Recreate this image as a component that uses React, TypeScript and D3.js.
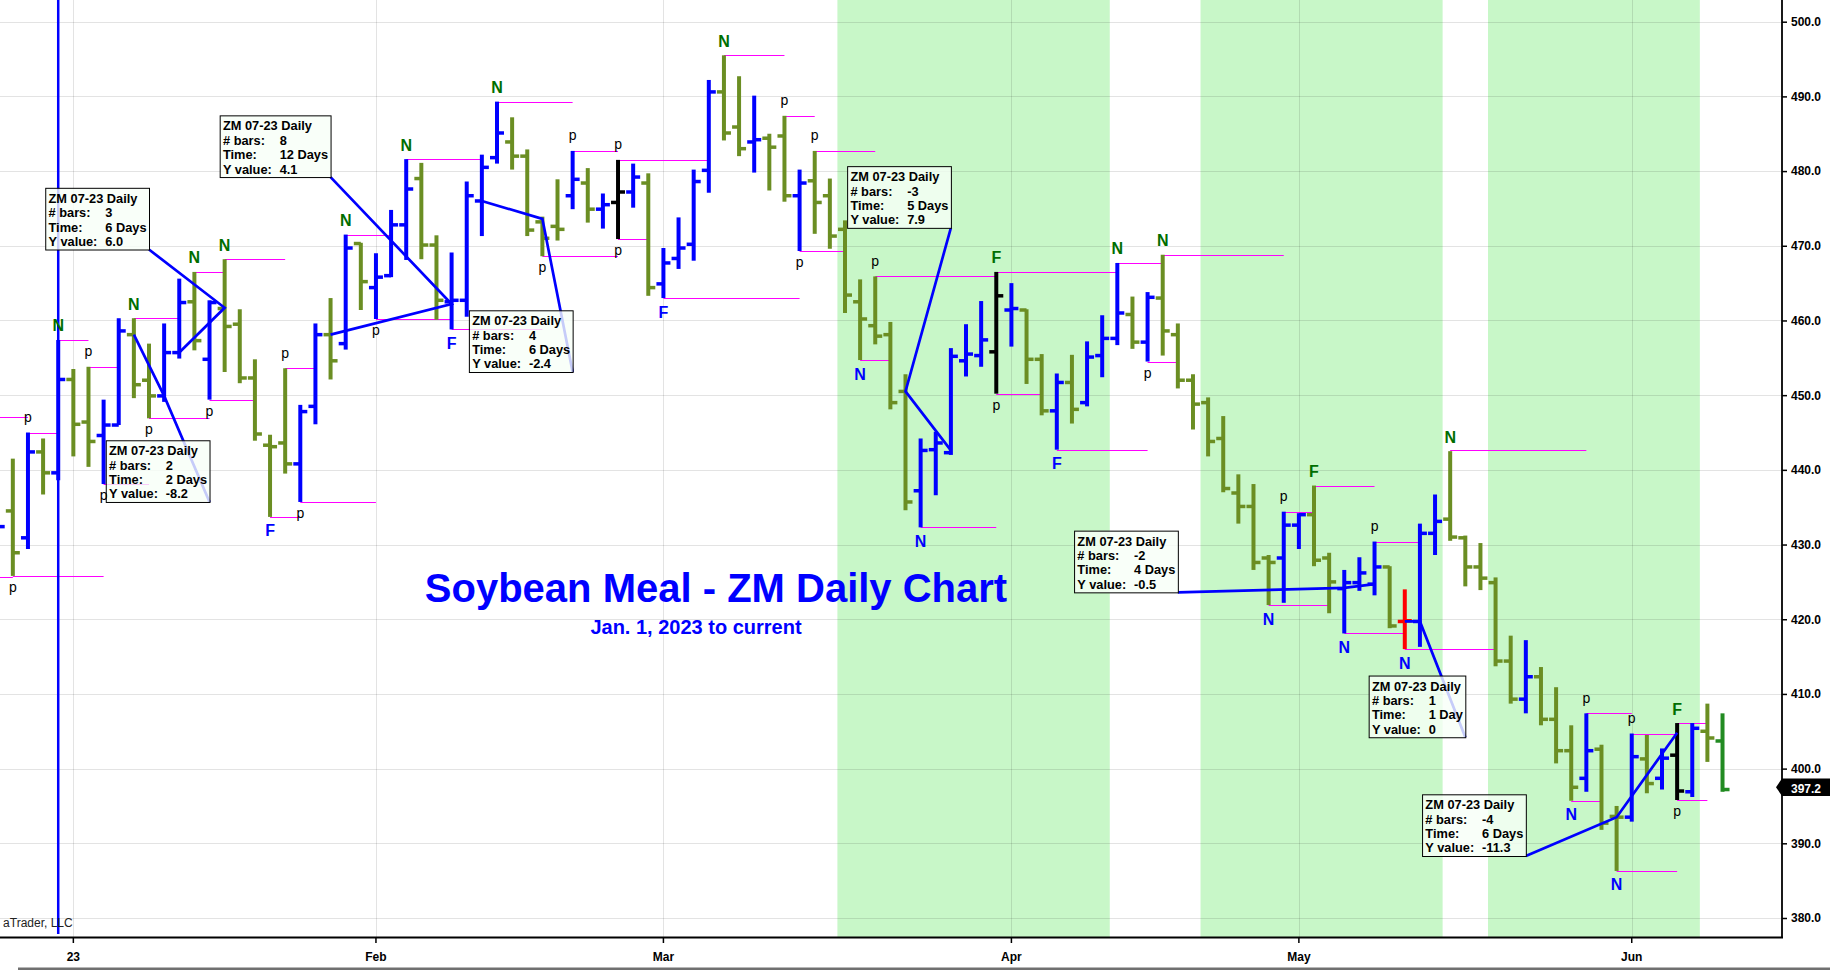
import React, { useRef, useEffect } from 'react';
import * as d3 from 'd3';

// trading days shown on the chart
const dates = [
  '2022-12-23', '2022-12-27', '2022-12-28', '2022-12-29', '2022-12-30',
  '2023-01-03', '2023-01-04', '2023-01-05', '2023-01-06', '2023-01-09', '2023-01-10', '2023-01-11', '2023-01-12',
  '2023-01-13', '2023-01-17', '2023-01-18', '2023-01-19', '2023-01-20', '2023-01-23', '2023-01-24', '2023-01-25',
  '2023-01-26', '2023-01-27', '2023-01-30', '2023-01-31',
  '2023-02-01', '2023-02-02', '2023-02-03', '2023-02-06', '2023-02-07', '2023-02-08', '2023-02-09', '2023-02-10',
  '2023-02-13', '2023-02-14', '2023-02-15', '2023-02-16', '2023-02-17', '2023-02-21', '2023-02-22', '2023-02-23',
  '2023-02-24', '2023-02-27', '2023-02-28',
  '2023-03-01', '2023-03-02', '2023-03-03', '2023-03-06', '2023-03-07', '2023-03-08', '2023-03-09', '2023-03-10',
  '2023-03-13', '2023-03-14', '2023-03-15', '2023-03-16', '2023-03-17', '2023-03-20', '2023-03-21', '2023-03-22',
  '2023-03-23', '2023-03-24', '2023-03-27', '2023-03-28', '2023-03-29', '2023-03-30', '2023-03-31',
  '2023-04-03', '2023-04-04', '2023-04-05', '2023-04-06', '2023-04-10', '2023-04-11', '2023-04-12', '2023-04-13',
  '2023-04-14', '2023-04-17', '2023-04-18', '2023-04-19', '2023-04-20', '2023-04-21', '2023-04-24', '2023-04-25',
  '2023-04-26', '2023-04-27', '2023-04-28',
  '2023-05-01', '2023-05-02', '2023-05-03', '2023-05-04', '2023-05-05', '2023-05-08', '2023-05-09', '2023-05-10',
  '2023-05-11', '2023-05-12', '2023-05-15', '2023-05-16', '2023-05-17', '2023-05-18', '2023-05-19', '2023-05-22',
  '2023-05-23', '2023-05-24', '2023-05-25', '2023-05-26', '2023-05-30', '2023-05-31',
  '2023-06-01', '2023-06-02', '2023-06-05', '2023-06-06', '2023-06-07', '2023-06-08', '2023-06-09',
];

const opens = [
  435.5, 434.5, 430.9, 442.4, 439.6,
  452.1, 446.4, 444.6, 446.0, 458.1, 452.0, 449.9, 455.7, 462.5, 454.8, 461.6, 459.5, 452.3, 443.3, 443.6, 440.8, 448.5, 458.1, 456.9, 470.3,
  464.4, 466.0, 472.8, 479.0, 470.1, 462.5, 462.7, 476.0, 481.8, 483.9, 482.0, 473.2, 472.6, 476.7, 478.4, 474.9, 475.8, 477.2, 478.4,
  464.9, 468.3, 470.2, 480.1, 490.6, 485.9, 483.9, 484.4, 484.7, 476.7, 478.7, 476.7, 472.2, 462.5, 459.3, 458.1, 450.5, 437.2, 442.7, 442.3, 454.6, 455.3, 455.8,
  461.4, 461.4, 454.8, 447.9, 451.7, 449.0, 455.3, 457.6, 460.8, 457.1, 463.0, 458.1, 452.0, 449.0, 444.2, 436.9, 435.1, 428.2, 428.2,
  432.6, 434.0, 428.2, 424.1, 424.9, 424.7, 427.0, 419.7, 419.7, 431.5, 433.4, 430.9, 427.0, 424.9, 414.4, 409.3, 412.3, 406.6, 402.4, 398.7, 402.6, 393.6,
  393.5, 401.3, 398.7, 401.8, 396.9, 405.0, 403.7,
];
const highs = [
  437.5, 441.5, 445.0, 444.2, 457.4,
  453.5, 453.8, 449.4, 460.3, 460.3, 456.9, 459.6, 465.6, 466.5, 462.7, 468.2, 461.5, 454.8, 444.7, 453.6, 448.7, 459.6, 463.0, 471.5, 470.4,
  469.0, 474.8, 481.6, 481.1, 471.4, 469.1, 478.6, 482.2, 489.3, 487.2, 482.9, 473.9, 478.9, 482.7, 480.4, 477.0, 481.5, 481.0, 479.7,
  469.7, 473.8, 480.2, 492.2, 495.5, 492.7, 490.1, 485.0, 487.4, 480.2, 482.7, 479.0, 473.4, 465.5, 465.9, 459.8, 452.8, 444.2, 445.1, 456.3, 459.5, 462.6, 466.5,
  465.0, 461.5, 455.5, 452.9, 455.4, 457.2, 460.7, 467.7, 463.2, 463.8, 468.8, 459.6, 452.8, 449.7, 447.2, 439.4, 438.1, 428.6, 434.4,
  434.2, 437.9, 428.9, 426.6, 428.3, 430.4, 427.1, 424.0, 432.8, 436.7, 442.5, 431.2, 430.2, 425.6, 417.8, 417.2, 413.6, 410.9, 405.8, 407.4, 403.2, 395.0,
  404.7, 404.5, 402.7, 406.1, 406.1, 408.7, 407.4,
];
const lows = [
  430.5, 425.8, 429.4, 436.7, 438.6,
  441.8, 440.4, 438.1, 446.0, 449.6, 446.9, 449.1, 454.9, 456.0, 449.4, 453.1, 451.6, 443.9, 433.7, 439.5, 435.7, 446.1, 452.1, 456.1, 461.4,
  460.2, 465.8, 468.1, 468.2, 460.1, 458.8, 460.5, 471.3, 481.0, 480.2, 471.3, 468.6, 470.7, 474.9, 473.1, 472.3, 470.9, 475.1, 463.3,
  463.0, 466.9, 468.0, 477.1, 484.1, 482.0, 479.8, 477.4, 475.9, 469.3, 471.6, 469.6, 461.0, 454.7, 456.8, 448.1, 434.6, 432.3, 436.6, 442.0, 452.5, 453.8, 450.2,
  456.5, 451.5, 447.3, 442.7, 446.2, 448.5, 452.4, 456.7, 456.2, 454.5, 455.3, 450.9, 445.4, 441.8, 437.0, 432.8, 426.6, 421.9, 422.2,
  429.4, 427.1, 420.8, 418.1, 423.8, 423.2, 418.8, 416.0, 416.3, 428.6, 430.5, 424.4, 423.9, 413.7, 408.7, 407.4, 405.8, 400.7, 395.7, 396.9, 391.8, 386.3,
  392.9, 396.7, 397.2, 395.8, 396.2, 400.9, 396.9,
];
const closes = [
  432.4, 428.9, 442.4, 439.6, 452.1,
  446.1, 443.8, 446.0, 458.6, 451.4, 449.9, 455.7, 462.4, 457.3, 462.4, 459.2, 452.3, 444.8, 443.1, 440.8, 447.8, 458.1, 454.6, 469.7, 465.2,
  465.8, 472.8, 477.6, 470.1, 462.7, 462.7, 476.7, 480.5, 485.1, 482.0, 472.1, 471.0, 472.2, 478.9, 474.9, 475.5, 477.2, 479.2, 464.4,
  467.7, 469.7, 478.6, 490.6, 485.1, 483.0, 484.2, 483.2, 476.7, 478.4, 475.8, 471.3, 463.4, 460.2, 457.9, 449.0, 435.7, 442.6, 443.6, 455.2, 455.5, 457.4, 463.3,
  461.6, 454.8, 447.9, 451.7, 448.1, 455.1, 457.6, 461.0, 457.1, 463.1, 458.6, 452.0, 448.8, 443.8, 437.5, 435.1, 427.6, 427.6, 432.6,
  434.0, 427.9, 425.0, 424.9, 426.2, 427.0, 419.1, 419.8, 431.5, 433.1, 431.0, 427.0, 425.5, 414.4, 409.3, 412.3, 406.6, 402.4, 397.5, 402.4, 392.7, 393.5,
  401.6, 398.0, 401.4, 397.0, 405.4, 404.1, 397.2,
];
// b blue, g olive, k black, r red, d last bar
const barKinds = (
  'bgbgb' +
  'ggbbggbbgbgggggbbgbg' +
  'bbbggbbbbggggbgbkbg' +
  'bbbbggbggbgggggggbbbbbk' +
  'bggbgbbbgbggggggggb' +
  'bggbbbgrbbgggggbgggbgg' +
  'bgbkbgd'
).split('');

// pivot marks: [date, side, text]
const pivotLabels: [string, string, string][] = [
  ['2022-12-27', 'L', 'p'], ['2022-12-28', 'H', 'p'], ['2022-12-30', 'H', 'N'], ['2023-01-04', 'H', 'p'],
  ['2023-01-05', 'L', 'p'], ['2023-01-09', 'H', 'N'], ['2023-01-10', 'L', 'p'], ['2023-01-13', 'H', 'N'],
  ['2023-01-17', 'L', 'p'], ['2023-01-18', 'H', 'N'], ['2023-01-23', 'L', 'F'], ['2023-01-24', 'H', 'p'],
  ['2023-01-25', 'L', 'p'], ['2023-01-30', 'H', 'N'], ['2023-02-01', 'L', 'p'], ['2023-02-03', 'H', 'N'],
  ['2023-02-08', 'L', 'F'], ['2023-02-13', 'H', 'N'], ['2023-02-16', 'L', 'p'], ['2023-02-21', 'H', 'p'],
  ['2023-02-24', 'H', 'p'], ['2023-02-24', 'L', 'p'], ['2023-03-01', 'L', 'F'], ['2023-03-07', 'H', 'N'],
  ['2023-03-13', 'H', 'p'], ['2023-03-14', 'L', 'p'], ['2023-03-15', 'H', 'p'], ['2023-03-20', 'L', 'N'],
  ['2023-03-21', 'H', 'p'], ['2023-03-24', 'L', 'N'], ['2023-03-31', 'H', 'F'], ['2023-03-31', 'L', 'p'],
  ['2023-04-06', 'L', 'F'], ['2023-04-13', 'H', 'N'], ['2023-04-17', 'L', 'p'], ['2023-04-18', 'H', 'N'],
  ['2023-04-27', 'L', 'N'], ['2023-04-28', 'H', 'p'], ['2023-05-02', 'H', 'F'], ['2023-05-04', 'L', 'N'],
  ['2023-05-08', 'H', 'p'], ['2023-05-10', 'L', 'N'], ['2023-05-15', 'H', 'N'], ['2023-05-25', 'L', 'N'],
  ['2023-05-26', 'H', 'p'], ['2023-05-31', 'L', 'N'], ['2023-06-01', 'H', 'p'], ['2023-06-06', 'H', 'F'],
  ['2023-06-06', 'L', 'p'],
];

// magenta pivot levels: [from, to, price]
const levelLines: [string, string, number][] = [
  ['2022-12-23', '2022-12-28', 447.1], ['2022-12-23', '2022-12-27', 425.6], ['2022-12-28', '2022-12-30', 445.0],
  ['2022-12-27', '2023-01-05', 425.8], ['2022-12-30', '2023-01-04', 457.4], ['2023-01-04', '2023-01-06', 453.8],
  ['2023-01-05', '2023-01-10', 438.1], ['2023-01-09', '2023-01-12', 460.3], ['2023-01-10', '2023-01-17', 446.9],
  ['2023-01-13', '2023-01-18', 466.5], ['2023-01-17', '2023-01-20', 449.4], ['2023-01-18', '2023-01-24', 468.2],
  ['2023-01-23', '2023-01-25', 433.7], ['2023-01-24', '2023-01-26', 453.6], ['2023-01-25', '2023-02-01', 435.7],
  ['2023-01-30', '2023-02-02', 471.5], ['2023-02-01', '2023-02-08', 460.2], ['2023-02-03', '2023-02-10', 481.6],
  ['2023-02-08', '2023-02-16', 458.8], ['2023-02-13', '2023-02-21', 489.3], ['2023-02-16', '2023-02-24', 468.6],
  ['2023-02-21', '2023-02-24', 482.7], ['2023-02-24', '2023-03-06', 481.5], ['2023-02-24', '2023-02-28', 470.9],
  ['2023-03-01', '2023-03-14', 463.0], ['2023-03-07', '2023-03-13', 495.5], ['2023-03-13', '2023-03-15', 487.4],
  ['2023-03-14', '2023-03-17', 469.3], ['2023-03-15', '2023-03-21', 482.7], ['2023-03-21', '2023-03-31', 465.9],
  ['2023-03-20', '2023-03-22', 454.7], ['2023-03-24', '2023-03-31', 432.3], ['2023-03-31', '2023-04-13', 466.5],
  ['2023-03-31', '2023-04-05', 450.2], ['2023-04-06', '2023-04-17', 442.7], ['2023-04-13', '2023-04-18', 467.7],
  ['2023-04-17', '2023-04-19', 454.5], ['2023-04-18', '2023-04-28', 468.8], ['2023-04-27', '2023-05-03', 421.9],
  ['2023-04-28', '2023-05-02', 434.4], ['2023-05-02', '2023-05-08', 437.9], ['2023-05-04', '2023-05-10', 418.1],
  ['2023-05-08', '2023-05-11', 430.4], ['2023-05-10', '2023-05-18', 416.0], ['2023-05-15', '2023-05-26', 442.6],
  ['2023-05-25', '2023-05-30', 395.7], ['2023-05-26', '2023-06-01', 407.4], ['2023-05-31', '2023-06-06', 386.3],
  ['2023-06-01', '2023-06-06', 404.7], ['2023-06-06', '2023-06-08', 406.1], ['2023-06-06', '2023-06-08', 395.8],
];

// measurement lines: [from, price, to, price]
const measures: [string, number, string, number][] = [
  ['2023-01-12', 455.7, '2023-01-18', 461.7],
  ['2023-01-09', 458.1, '2023-01-11', 449.9],
  ['2023-01-27', 458.1, '2023-02-08', 462.2],
  ['2023-02-10', 476.0, '2023-02-16', 473.6],
  ['2023-03-28', 442.6, '2023-03-23', 450.5],
  ['2023-05-08', 424.7, '2023-05-04', 424.2],
  ['2023-05-10', 419.7, '2023-05-11', 419.7],
  ['2023-06-06', 404.8, '2023-05-31', 393.5],
];
// where each info box hangs (its lower right corner), in date / price
const boxAnchors: [string, number][] = [
  ['2023-01-10', 469.5], ['2023-01-17', 435.7], ['2023-01-27', 479.2], ['2023-02-21', 453.1],
  ['2023-03-28', 472.4], ['2023-04-19', 423.6], ['2023-05-16', 404.2], ['2023-05-22', 388.3],
];

const shaded: [string, string][] = [
  ['2023-03-17', '2023-04-12'],
  ['2023-04-21', '2023-05-12'],
  ['2023-05-18', '2023-06-07'],
];

const monthTicks = ['2023-01-03', '2023-02-01', '2023-03-01', '2023-04-03', '2023-05-01', '2023-06-01'];
const monthLabels = ['23', 'Feb', 'Mar', 'Apr', 'May', 'Jun'];
const priceTicks = [380, 390, 400, 410, 420, 430, 440, 450, 460, 470, 480, 490, 500];
const lastPrice = 397.2;

const barColor: Record<string, string> = {
  b: '#0000ff', g: '#6b8e23', k: '#000000', r: '#ff0000', d: '#228b22',
};

function App() {
  const chartRef = useRef<SVGSVGElement>(null);

  useEffect(() => {
    const svg = d3.select(chartRef.current);
    svg.selectAll('*').remove();

    const width = 1830;
    const plotRight = 1782;
    const plotBottom = 937;
    const font = "'Liberation Sans', Arial, sans-serif";
    const step = 15.13;

    const x = d3
      .scaleBand<string>()
      .domain(dates)
      .range([-2.3 - step / 2, -2.3 - step / 2 + dates.length * step]);
    const xc = (d: string) => (x(d) as number) + x.bandwidth() / 2;
    const y = d3.scaleLinear().domain([380, 500]).range([918, 21.7]);

    svg.append('rect').attr('width', width).attr('height', 970).attr('fill', '#fff');

    svg
      .append('defs')
      .append('clipPath')
      .attr('id', 'plotClip')
      .append('rect')
      .attr('width', plotRight)
      .attr('height', plotBottom);

    const plot = svg.append('g').attr('clip-path', 'url(#plotClip)');

    // shaded windows
    shaded.forEach(([a, b]) => {
      plot
        .append('rect')
        .attr('x', x(a) as number)
        .attr('width', (x(b) as number) + x.bandwidth() - (x(a) as number))
        .attr('y', 0)
        .attr('height', plotBottom)
        .attr('fill', '#c8f7c8');
    });

    // grid
    plot
      .selectAll('line.hgrid')
      .data(priceTicks)
      .enter()
      .append('line')
      .attr('x1', 0)
      .attr('x2', plotRight)
      .attr('y1', (d) => Math.round(y(d)) + 0.5)
      .attr('y2', (d) => Math.round(y(d)) + 0.5)
      .attr('stroke', '#000')
      .attr('stroke-opacity', 0.11);
    plot
      .selectAll('line.vgrid')
      .data(monthTicks)
      .enter()
      .append('line')
      .attr('x1', (d) => Math.round(xc(d)) + 0.5)
      .attr('x2', (d) => Math.round(xc(d)) + 0.5)
      .attr('y1', 0)
      .attr('y2', plotBottom)
      .attr('stroke', '#000')
      .attr('stroke-opacity', 0.11);

    // pivot levels
    plot
      .selectAll('line.level')
      .data(levelLines)
      .enter()
      .append('line')
      .attr('x1', (d) => xc(d[0]))
      .attr('x2', (d) => xc(d[1]))
      .attr('y1', (d) => Math.round(y(d[2])) + 0.5)
      .attr('y2', (d) => Math.round(y(d[2])) + 0.5)
      .attr('stroke', '#ff00ff')
      .attr('stroke-width', 1);

    // OHLC bars
    const bars = plot
      .selectAll('g.bar')
      .data(dates)
      .enter()
      .append('g')
      .attr('stroke', (d, i) => barColor[barKinds[i]]);
    bars
      .append('line')
      .attr('x1', (d) => xc(d))
      .attr('x2', (d) => xc(d))
      .attr('y1', (d, i) => y(highs[i]))
      .attr('y2', (d, i) => y(lows[i]))
      .attr('stroke-width', 4);
    bars
      .append('line')
      .attr('x1', (d) => xc(d) - 7)
      .attr('x2', (d) => xc(d))
      .attr('y1', (d, i) => y(opens[i]))
      .attr('y2', (d, i) => y(opens[i]))
      .attr('stroke-width', 3.5);
    bars
      .append('line')
      .attr('x1', (d) => xc(d))
      .attr('x2', (d) => xc(d) + 7)
      .attr('y1', (d, i) => y(closes[i]))
      .attr('y2', (d, i) => y(closes[i]))
      .attr('stroke-width', 3.5);

    // year-end marker
    plot
      .append('line')
      .attr('x1', xc('2022-12-30'))
      .attr('x2', xc('2022-12-30'))
      .attr('y1', 0)
      .attr('y2', plotBottom - 3)
      .attr('stroke', '#0000ff')
      .attr('stroke-width', 2.5);

    // measurement lines with their info boxes
    const boxFont = `bold 12.8px ${font}`;
    const ctx = document.createElement('canvas').getContext('2d') as CanvasRenderingContext2D;
    ctx.font = boxFont;
    measures.forEach(([a, pa, b, pb], i) => {
      const [bd, bp] = boxAnchors[i];
      const ax = xc(bd);
      const ay = y(bp);
      plot
        .append('path')
        .attr('d', d3.line()([[xc(a), y(pa)], [xc(b), y(pb)], [ax, ay]]))
        .attr('fill', 'none')
        .attr('stroke', '#0000ff')
        .attr('stroke-width', 2.7);

      const nBars = dates.indexOf(b) - dates.indexOf(a);
      const days = Math.round(Math.abs(+new Date(b) - +new Date(a)) / 86400000);
      const dv = pb - pa;
      const rows = [
        ['ZM 07-23 Daily', ''],
        ['# bars:', String(nBars)],
        ['Time:', `${days} Day${days === 1 ? '' : 's'}`],
        ['Y value:', Math.abs(dv) < 0.05 ? '0' : dv.toFixed(1)],
      ];
      const w =
        (d3.max(rows, (r) => (r[1] ? 60 + ctx.measureText(r[1]).width : 3.3 + ctx.measureText(r[0]).width)) as number) + 2.5;
      const h = 61.7;
      const box = plot.append('g').attr('transform', `translate(${ax - w},${ay - h})`);
      box
        .append('rect')
        .attr('x', 0.5)
        .attr('y', 0.5)
        .attr('width', w)
        .attr('height', h)
        .attr('fill', '#f7fff7')
        .attr('fill-opacity', 0.8)
        .attr('stroke', '#000')
        .attr('stroke-width', 1);
      rows.forEach((r, k) => {
        const ty = 15 + k * 14.4;
        box
          .append('text')
          .attr('x', 3.3)
          .attr('y', ty)
          .attr('font-family', font)
          .attr('font-size', 12.8)
          .attr('font-weight', 'bold')
          .attr('fill', '#000')
          .text(r[0]);
        if (r[1]) {
          box
            .append('text')
            .attr('x', 60)
            .attr('y', ty)
            .attr('font-family', font)
            .attr('font-size', 12.8)
            .attr('font-weight', 'bold')
            .attr('fill', '#000')
            .text(r[1]);
        }
      });
    });

    // pivot letters
    plot
      .selectAll('text.pivot')
      .data(pivotLabels)
      .enter()
      .append('text')
      .attr('x', (d) => xc(d[0]))
      .attr('y', (d) => {
        const i = dates.indexOf(d[0]);
        const isP = d[2] === 'p';
        return d[1] === 'H' ? y(highs[i]) - (isP ? 10.5 : 8.5) : y(lows[i]) + (isP ? 16 : 19.5);
      })
      .attr('text-anchor', 'middle')
      .attr('font-family', font)
      .attr('font-size', (d) => (d[2] === 'p' ? 14 : 16))
      .attr('font-weight', (d) => (d[2] === 'p' ? 'normal' : 'bold'))
      .attr('fill', (d) => (d[2] === 'p' ? '#000' : d[1] === 'H' ? '#006e00' : '#0000ff'))
      .text((d) => d[2]);

    // title
    plot
      .append('text')
      .attr('x', 716)
      .attr('y', 601.7)
      .attr('text-anchor', 'middle')
      .attr('font-family', font)
      .attr('font-size', 40)
      .attr('font-weight', 'bold')
      .attr('fill', '#0000ff')
      .text('Soybean Meal - ZM Daily Chart');
    plot
      .append('text')
      .attr('x', 696)
      .attr('y', 634)
      .attr('text-anchor', 'middle')
      .attr('font-family', font)
      .attr('font-size', 20)
      .attr('font-weight', 'bold')
      .attr('fill', '#0000ff')
      .text('Jan. 1, 2023 to current');

    plot
      .append('text')
      .attr('x', 72.7)
      .attr('y', 926.7)
      .attr('text-anchor', 'end')
      .attr('font-family', font)
      .attr('font-size', 12)
      .attr('fill', '#222')
      .text('aTrader, LLC');

    // axes
    const yAxis = svg
      .append('g')
      .attr('transform', `translate(${plotRight},0)`)
      .call(d3.axisRight(y).tickValues(priceTicks).tickFormat(d3.format('.1f')).tickSize(5).tickPadding(4));
    yAxis.select('.domain').remove();
    yAxis
      .selectAll('text')
      .attr('font-family', font)
      .attr('font-size', 12)
      .attr('font-weight', 'bold')
      .attr('fill', '#000');
    yAxis.selectAll('line').attr('stroke', '#000').attr('stroke-width', 1.5);

    const xAxis = svg
      .append('g')
      .attr('transform', `translate(0,${plotBottom})`)
      .call(
        d3
          .axisBottom(x)
          .tickValues(monthTicks)
          .tickFormat((d, i) => monthLabels[i])
          .tickSize(6)
          .tickPadding(9.5),
      );
    xAxis.select('.domain').remove();
    xAxis
      .selectAll('text')
      .attr('font-family', font)
      .attr('font-size', 12)
      .attr('font-weight', 'bold')
      .attr('fill', '#000');
    xAxis.selectAll('line').attr('stroke', '#000').attr('stroke-width', 1.5);

    svg
      .append('line')
      .attr('x1', 0)
      .attr('x2', plotRight + 1)
      .attr('y1', plotBottom + 0.5)
      .attr('y2', plotBottom + 0.5)
      .attr('stroke', '#000')
      .attr('stroke-width', 2);
    svg
      .append('line')
      .attr('x1', plotRight)
      .attr('x2', plotRight)
      .attr('y1', 0)
      .attr('y2', plotBottom + 1)
      .attr('stroke', '#000')
      .attr('stroke-width', 1.8);

    // last price tag
    const yp = y(lastPrice);
    const top = yp - 11;
    const bot = yp + 6.5;
    svg
      .append('path')
      .attr(
        'd',
        `M${plotRight - 6},${(top + bot) / 2} L${plotRight},${top} L${width},${top} L${width},${bot} L${plotRight},${bot} Z`,
      )
      .attr('fill', '#000');
    svg
      .append('text')
      .attr('x', plotRight + 9)
      .attr('y', yp + 3.8)
      .attr('font-family', font)
      .attr('font-size', 12)
      .attr('font-weight', 'bold')
      .attr('fill', '#fff')
      .text(d3.format('.1f')(lastPrice));

    // strip along the bottom edge
    svg.append('rect').attr('x', 18).attr('y', 967.5).attr('width', width - 18).attr('height', 3).attr('fill', '#707070');
  }, []);

  return (
    <svg
      ref={chartRef}
      width={1830}
      height={970}
      style={{ position: 'absolute', left: 0, top: 0, display: 'block' }}
    ></svg>
  );
}

export default App;
